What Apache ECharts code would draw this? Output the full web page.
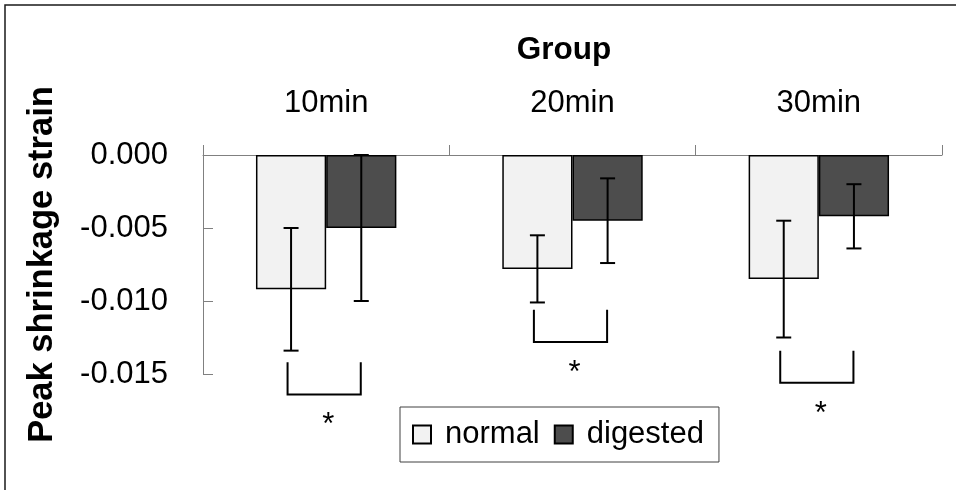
<!DOCTYPE html>
<html>
<head>
<meta charset="utf-8">
<style>
  html, body { margin: 0; padding: 0; background: #fff; }
  #chart { width: 956px; height: 490px; }
</style>
<script src="https://cdn.jsdelivr.net/npm/echarts@6/dist/echarts.min.js"></script>
</head>
<body>
<div id="chart"></div>
<script>
// Peak shrinkage strain by digestion time (mean ± SD)
const categories = ['10min', '20min', '30min'];
const seriesNames = ['normal', 'digested'];
const normalMean = [-0.0092, -0.0078, -0.0085];
const normalErr = [0.0042, 0.0023, 0.0040];
const digestedMean = [-0.0050, -0.0045, -0.0042];
const digestedErr = [0.0050, 0.0029, 0.0022];
// significance brackets (top and bottom of each bracket, in strain units)
const sigTop = [-0.0142, -0.0106, -0.0134];
const sigBottom = [-0.0164, -0.0128, -0.0156];
const sigMark = ['*', '*', '*'];

const FONT = '"Liberation Sans", Arial, sans-serif';
const CAT_GAP = 0.43;

function errorSeries(means, errs, side) {
  return {
    type: 'custom',
    coordinateSystem: 'cartesian2d',
    z: 5,
    silent: true,
    clip: false,
    data: means.map((m, i) => [i, m, errs[i]]),
    encode: { x: 0, y: 1 },
    renderItem(params, api) {
      const i = api.value(0), m = api.value(1), e = api.value(2);
      const band = api.size([1, 0])[0];
      const barW = band * (1 - CAT_GAP) / 2;
      const x = api.coord([i, m])[0] + side * barW / 2;
      const hi = api.coord([i, m + e])[1];
      const lo = api.coord([i, m - e])[1];
      const cap = 7.5;
      const st = { stroke: '#000', lineWidth: 2 };
      return {
        type: 'group',
        children: [
          { type: 'line', shape: { x1: x, y1: hi, x2: x, y2: lo }, style: st },
          { type: 'line', shape: { x1: x - cap, y1: hi, x2: x + cap, y2: hi }, style: st },
          { type: 'line', shape: { x1: x - cap, y1: lo, x2: x + cap, y2: lo }, style: st }
        ]
      };
    }
  };
}

const chart = echarts.init(document.getElementById('chart'), null, { renderer: 'canvas' });

chart.setOption({
  animation: false,
  backgroundColor: '#fff',
  textStyle: { fontFamily: FONT },
  grid: { left: 203, right: 14, top: 155, bottom: 116, containLabel: false },
  legend: {
    data: seriesNames,
    left: 400,
    top: 407,
    orient: 'horizontal',
    icon: 'rect',
    itemWidth: 18,
    itemHeight: 18,
    itemGap: 14,
    padding: [11, 15, 11, 12],
    borderColor: '#404040',
    borderWidth: 1,
    textStyle: { fontFamily: FONT, fontSize: 31, color: '#000', lineHeight: 33, padding: [0, 0, 0, 9] }
  },
  xAxis: {
    type: 'category',
    position: 'top',
    data: categories,
    axisLine: { onZero: false, lineStyle: { color: '#808080', width: 1 } },
    axisTick: { show: true, length: 10, lineStyle: { color: '#808080' } },
    axisLabel: { fontFamily: FONT, fontSize: 31, color: '#000', margin: 36 },
    splitLine: { show: false }
  },
  yAxis: {
    type: 'value',
    min: -0.015,
    max: 0,
    interval: 0.005,
    name: 'Peak shrinkage strain',
    nameLocation: 'middle',
    nameGap: 143,
    nameTextStyle: { fontFamily: FONT, fontSize: 34.5, fontWeight: 'bold', color: '#000' },
    axisLine: { show: true, lineStyle: { color: '#808080', width: 1 } },
    axisTick: { show: true, inside: true, length: 10, lineStyle: { color: '#808080' } },
    axisLabel: {
      fontFamily: FONT, fontSize: 31, color: '#000', margin: 35,
      formatter: v => v.toFixed(3)
    },
    splitLine: { show: false }
  },
  graphic: [
    {
      type: 'rect',
      shape: { x: 5, y: 5, width: 1200, height: 1000 },
      style: { fill: 'none', stroke: '#1a1a1a', lineWidth: 1.5 },
      silent: true, z: 100
    },
    {
      type: 'text',
      x: 564, y: 50,
      style: {
        text: 'Group', fontFamily: FONT, fontSize: 31.5, fontWeight: 'bold',
        fill: '#000', textAlign: 'center', textVerticalAlign: 'middle'
      },
      silent: true
    }
  ],
  series: [
    {
      name: seriesNames[0],
      type: 'bar',
      data: normalMean,
      barGap: '0%',
      barCategoryGap: (CAT_GAP * 100) + '%',
      itemStyle: { color: '#f2f2f2', borderColor: '#000', borderWidth: 1.5 }
    },
    {
      name: seriesNames[1],
      type: 'bar',
      data: digestedMean,
      barGap: '0%',
      barCategoryGap: (CAT_GAP * 100) + '%',
      itemStyle: { color: '#4d4d4d', borderColor: '#000', borderWidth: 1.5 }
    },
    errorSeries(normalMean, normalErr, -1),
    errorSeries(digestedMean, digestedErr, 1),
    {
      type: 'custom',
      coordinateSystem: 'cartesian2d',
      z: 6,
      silent: true,
      clip: false,
      data: sigTop.map((t, i) => [i, t, sigBottom[i]]),
      encode: { x: 0, y: 1 },
      renderItem(params, api) {
        const i = api.value(0);
        const c = api.coord([i, api.value(1)]);
        const yBot = api.coord([i, api.value(2)])[1];
        const band = api.size([1, 0])[0];
        const half = band * (1 - CAT_GAP) / 2 / 2 + 1.5;
        const cx = c[0] - 2;
        const st = { stroke: '#000', lineWidth: 2, fill: 'none' };
        return {
          type: 'group',
          children: [
            {
              type: 'polyline',
              shape: { points: [[cx - half, c[1]], [cx - half, yBot], [cx + half, yBot], [cx + half, c[1]]] },
              style: st
            },
            {
              type: 'text',
              x: c[0] + 2, y: yBot + 16,
              style: {
                text: sigMark[params.dataIndex], fontFamily: FONT, fontSize: 31,
                fill: '#000', textAlign: 'center', textVerticalAlign: 'top'
              }
            }
          ]
        };
      }
    }
  ]
});
</script>
</body>
</html>
